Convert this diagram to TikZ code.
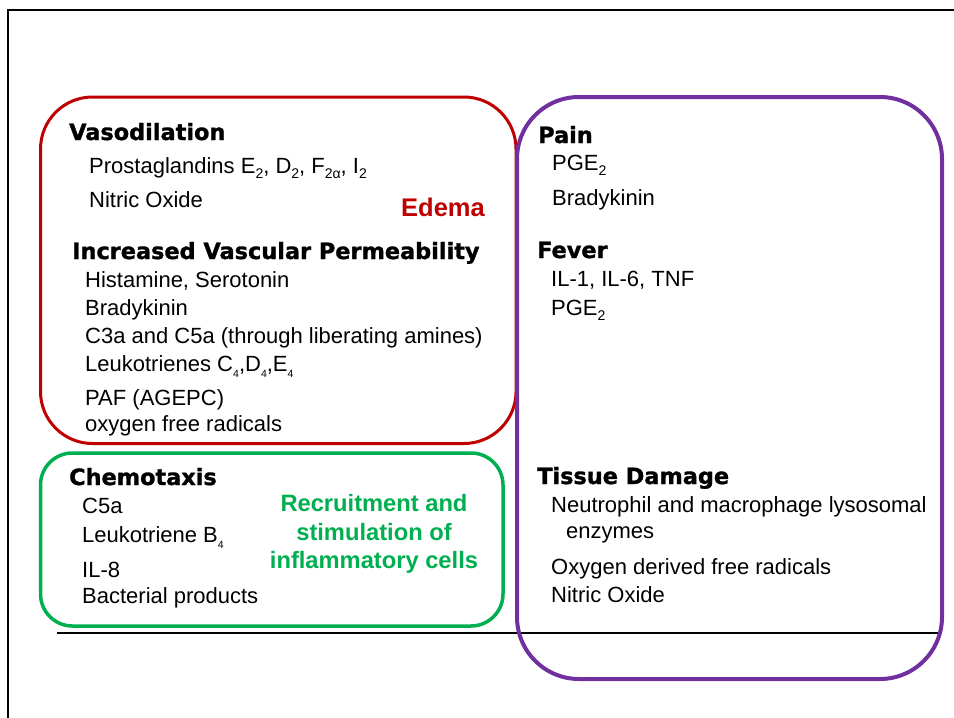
\documentclass[tikz,border=0pt]{standalone}
\usepackage{fontspec}
\setmainfont{Liberation Sans}
\newfontfamily\headfont{DejaVu Sans}[BoldFeatures={FakeBold=1.3}]
\definecolor{edemared}{RGB}{192,0,0}
\definecolor{painpurple}{RGB}{112,48,160}
\definecolor{chemogreen}{RGB}{0,176,80}
\newcommand\sbs[1]{\raisebox{-5pt}{\fontsize{14}{14}\selectfont #1}}
\newcommand\sbt[1]{\raisebox{-6pt}{\fontsize{10.5}{10.5}\selectfont #1}}
\tikzset{
  body/.style={anchor=base west, inner sep=0pt, text=black, font=\fontsize{22}{26}\selectfont},
  head/.style={anchor=base west, inner sep=0pt, text=black, font=\headfont\bfseries\fontsize{22.4}{26}\selectfont},
  effect/.style={anchor=base, inner sep=0pt, font=\bfseries\fontsize{23.7}{28}\selectfont},
  groupbox/.style={rounded corners=#1},
  frameline/.style={black, line width=2pt},
}
\begin{document}
\begin{tikzpicture}[x=1pt,y=-1pt]
\useasboundingbox (0,0) rectangle (954,718);
\fill[white] (0,0) rectangle (954,718);
% frame
\coordinate (ftl) at (8,10);
\coordinate (ftr) at (954,10);
\coordinate (fbl) at (8,718);
\coordinate (rl) at (57,633);
\coordinate (rr) at (939,633);
\draw[frameline] (ftr) -- (ftl) -- (fbl);
\draw[frameline] (rl) -- (rr);
% boxes
\draw[edemared, line width=3pt, groupbox=52pt] (40.5,97) rectangle (516,443.5);
\draw[chemogreen, line width=3.5pt, groupbox=32pt] (40.5,453) rectangle (503,626);
\draw[painpurple, line width=4pt, groupbox=62pt] (517,97) rectangle (942,679);
% red box
\node[head] (vaso) at (69,140) {Vasodilation};
\node[body] (prost) at (89,173) {Prostaglandins E\sbs{2}, D\sbs{2}, F\sbs{2α}, I\sbs{2}};
\node[body] (no1) at (89,207) {Nitric Oxide};
\node[effect, text=edemared, font=\bfseries\fontsize{25.5}{28}\selectfont] (edema) at (443,216.7) {Edema};
\node[head] (ivp) at (72,259) {Increased Vascular Permeability};
\node[body] (hist) at (85,287) {Histamine, Serotonin};
\node[body] (brady1) at (85,315) {Bradykinin};
\node[body] (c3a) at (85,343) {C3a and C5a (through liberating amines)};
\node[body] (leuk) at (85,371) {Leukotrienes C\sbt{4},D\sbt{4},E\sbt{4}};
\node[body] (paf) at (85,405) {PAF (AGEPC)};
\node[body] (ofr) at (85,431) {oxygen free radicals};
% green box
\node[head] (chemo) at (69,485) {Chemotaxis};
\node[body] (c5a) at (82,513) {C5a};
\node[body] (ltb) at (82,542) {Leukotriene B\sbt{4}};
\node[body] (il8) at (82,577) {IL-8};
\node[body] (bact) at (82,603) {Bacterial products};
\node[effect, text=chemogreen] (rec1) at (374,511.7) {Recruitment and};
\node[effect, text=chemogreen] (rec2) at (374,540) {stimulation of};
\node[effect, text=chemogreen] (rec3) at (374,568) {inflammatory cells};
% purple box
\node[head] (pain) at (538,143) {Pain};
\node[body] (pge1) at (552,170) {PGE\sbs{2}};
\node[body] (brady2) at (552,205) {Bradykinin};
\node[head] (fever) at (537,258) {Fever};
\node[body] (il1) at (551,286) {IL-1, IL-6, TNF};
\node[body] (pge2) at (551,315) {PGE\sbs{2}};
\node[head] (tissue) at (537,484) {Tissue Damage};
\node[body] (neut) at (551,512) {Neutrophil and macrophage lysosomal};
\node[body] (enz) at (566,538) {enzymes};
\node[body] (odfr) at (551,574) {Oxygen derived free radicals};
\node[body] (no2) at (551,602) {Nitric Oxide};
\end{tikzpicture}
\end{document}
